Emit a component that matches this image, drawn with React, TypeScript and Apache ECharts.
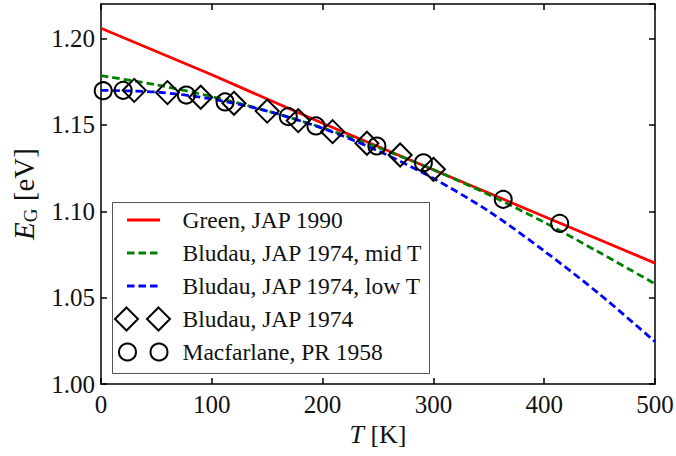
import React, { useEffect, useRef } from "react";
import * as echarts from "echarts";

// Green, JAP 1990 (straight line)
const greenT = [0, 100, 200, 300, 400, 500];
const greenE = [1.206, 1.179, 1.151, 1.124, 1.097, 1.07];

// Bludau, JAP 1974 curves
const curveT = [0, 50, 100, 150, 200, 250, 300, 350, 400, 450, 500];
const midE = [1.1785, 1.1732, 1.1664, 1.1581, 1.1483, 1.1369, 1.124, 1.1096, 1.0936, 1.0761, 1.058];
const lowE = [1.17, 1.169, 1.165, 1.158, 1.148, 1.135, 1.119, 1.1, 1.077, 1.052, 1.0245];

// Bludau, JAP 1974 data (diamonds)
const bludauT = [30, 60, 90, 120, 150, 178, 209, 240, 270, 300];
const bludauE = [1.17, 1.1687, 1.166, 1.1625, 1.158, 1.1525, 1.1461, 1.1394, 1.1326, 1.1243];

// Macfarlane, PR 1958 data (circles)
const macT = [2, 20, 77, 112, 169, 194, 249, 291, 363, 414];
const macE = [1.1698, 1.17, 1.1673, 1.1633, 1.1548, 1.1494, 1.1378, 1.1281, 1.1069, 1.093];

const legendLabels = [
  "Green, JAP 1990",
  "Bludau, JAP 1974, mid T",
  "Bludau, JAP 1974, low T",
  "Bludau, JAP 1974",
  "Macfarlane, PR 1958",
];

const FONT = "'Liberation Serif', 'Times New Roman', serif";
const zip = (xs: number[], ys: number[]) => xs.map((x, i) => [x, ys[i]]);

const axisLineStyle = { show: true, onZero: false, lineStyle: { color: "#000", width: 1.5 } };
const tickStyle = { show: true, inside: true, length: 6, lineStyle: { color: "#000", width: 1.5 } };

function buildLegend() {
  const rows = [220, 253, 286, 319, 352];
  const children: any[] = [
    {
      type: "rect",
      shape: { x: 112.5, y: 202.5, width: 317, height: 171 },
      style: { fill: "#fff", stroke: "#555", lineWidth: 1 },
    },
  ];
  const lineColors = ["#ff0000", "#008000", "#0000ff"];
  lineColors.forEach((c, i) => {
    children.push({
      type: "line",
      shape: { x1: 127, y1: rows[i], x2: 160, y2: rows[i] },
      style: { stroke: c, lineWidth: 2.8, lineDash: i === 0 ? null : [7.5, 4] },
    });
  });
  [126.5, 158.5].forEach((cx) => {
    const cy = rows[3];
    children.push({
      type: "polygon",
      shape: { points: [[cx, cy - 11.5], [cx + 11.5, cy], [cx, cy + 11.5], [cx - 11.5, cy]] },
      style: { fill: "none", stroke: "#000", lineWidth: 2 },
    });
  });
  [127.5, 159].forEach((cx) => {
    children.push({
      type: "circle",
      shape: { cx, cy: rows[4], r: 8.5 },
      style: { fill: "none", stroke: "#000", lineWidth: 2 },
    });
  });
  legendLabels.forEach((t, i) => {
    children.push({
      type: "text",
      x: 182.5,
      y: rows[i],
      style: {
        text: t,
        fontFamily: FONT,
        fontSize: 23.5,
        fill: "#111",
        align: "left",
        verticalAlign: "middle",
      },
    });
  });
  return [{ type: "group", z: 100, children }];
}

export default function App() {
  const ref = useRef<HTMLDivElement>(null);
  useEffect(() => {
    const chart = echarts.init(ref.current!, null, { renderer: "svg" });
    const option: any = {
      animation: false,
      backgroundColor: "#fff",
      grid: {
        left: 101,
        top: 4,
        right: 21,
        bottom: 72,
        containLabel: false,
        outerBoundsMode: "none",
      },
      xAxis: [
        {
          type: "value",
          position: "bottom",
          min: 0,
          max: 500,
          interval: 100,
          axisLine: axisLineStyle,
          axisTick: tickStyle,
          splitLine: { show: false },
          axisLabel: { fontFamily: FONT, fontSize: 25, color: "#111", margin: 8 },
          name: "{t|T} [K]",
          nameLocation: "middle",
          nameGap: 35,
          nameTextStyle: {
            fontFamily: FONT,
            fontSize: 26,
            color: "#111",
            rich: { t: { fontFamily: FONT, fontSize: 26, fontStyle: "italic", color: "#111" } },
          },
        },
        {
          type: "value",
          position: "top",
          min: 0,
          max: 500,
          interval: 100,
          axisLine: axisLineStyle,
          axisTick: tickStyle,
          splitLine: { show: false },
          axisLabel: { show: false },
        },
      ],
      yAxis: [
        {
          type: "value",
          position: "left",
          min: 1.0,
          max: 1.22,
          interval: 0.05,
          axisLine: axisLineStyle,
          axisTick: tickStyle,
          splitLine: { show: false },
          axisLabel: {
            fontFamily: FONT,
            fontSize: 25,
            color: "#111",
            margin: 6,
            showMaxLabel: false,
            formatter: (v: number) => v.toFixed(2),
          },
          name: "{e|E}{g|G}{n| [eV]}",
          nameLocation: "middle",
          nameRotate: 90,
          nameGap: 57,
          nameTextStyle: {
            fontFamily: FONT,
            fontSize: 28,
            color: "#111",
            rich: {
              e: { fontFamily: FONT, fontSize: 29, fontStyle: "italic", color: "#111", lineHeight: 32, verticalAlign: "middle" },
              g: { fontFamily: FONT, fontSize: 19, color: "#111", lineHeight: 18, verticalAlign: "bottom" },
              n: { fontFamily: FONT, fontSize: 29, color: "#111", lineHeight: 32, verticalAlign: "middle" },
            },
          },
        },
        {
          type: "value",
          position: "right",
          min: 1.0,
          max: 1.22,
          interval: 0.05,
          axisLine: axisLineStyle,
          axisTick: tickStyle,
          splitLine: { show: false },
          axisLabel: { show: false },
        },
      ],
      series: [
        {
          name: legendLabels[0],
          type: "line",
          data: zip(greenT, greenE),
          symbol: "none",
          lineStyle: { color: "#ff0000", width: 2.8 },
          z: 3,
        },
        {
          name: legendLabels[1],
          type: "line",
          data: zip(curveT, midE),
          symbol: "none",
          smooth: 0.3,
          lineStyle: { color: "#008000", width: 2.8, type: [7.5, 4] },
          z: 3,
        },
        {
          name: legendLabels[2],
          type: "line",
          data: zip(curveT, lowE),
          symbol: "none",
          smooth: 0.3,
          lineStyle: { color: "#0000ff", width: 2.8, type: [7.5, 4] },
          z: 3,
        },
        {
          name: legendLabels[3],
          type: "scatter",
          data: zip(bludauT, bludauE),
          symbol: "diamond",
          symbolSize: 23,
          itemStyle: { color: "rgba(0,0,0,0)", borderColor: "#000", borderWidth: 2, opacity: 1 },
          z: 4,
        },
        {
          name: legendLabels[4],
          type: "scatter",
          data: zip(macT, macE),
          symbol: "circle",
          symbolSize: 17,
          itemStyle: { color: "rgba(0,0,0,0)", borderColor: "#000", borderWidth: 2, opacity: 1 },
          z: 4,
        },
      ],
      graphic: buildLegend(),
    };
    chart.setOption(option);
    return () => chart.dispose();
  }, []);
  return (
    <div
      ref={ref}
      style={{ position: "fixed", left: 0, top: 0, width: 676, height: 456, background: "#fff" }}
    />
  );
}
